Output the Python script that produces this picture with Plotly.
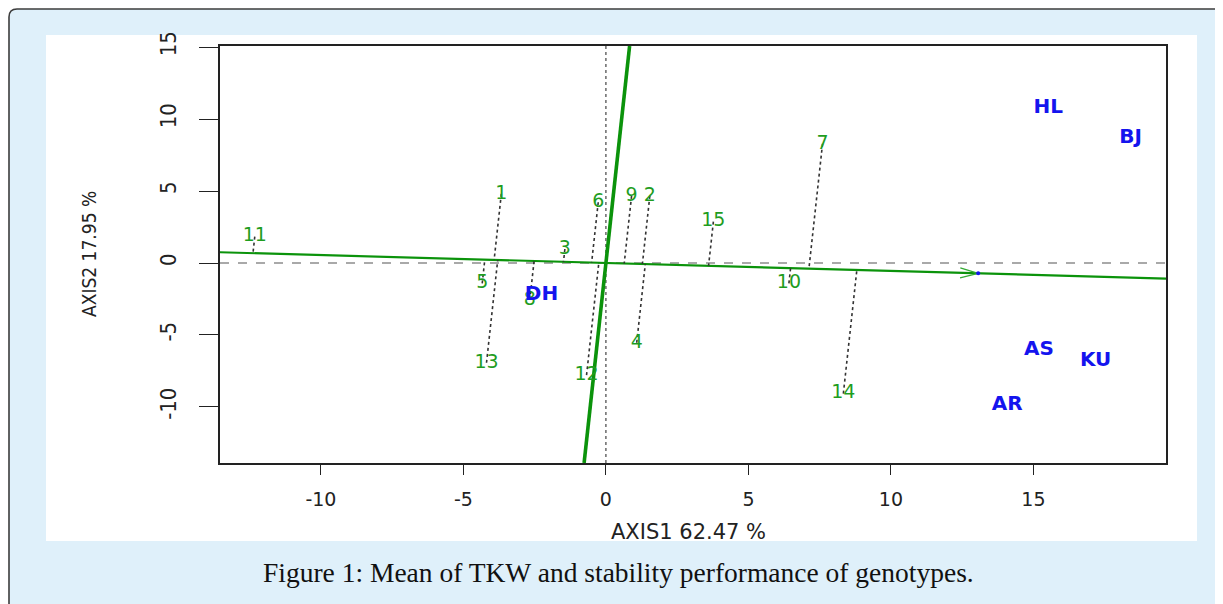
import plotly.graph_objects as go
import numpy as np

# ---------------- data ----------------
geno_labels = ["1", "2", "3", "4", "5", "6", "7", "8", "9", "10", "11", "12", "13", "14", "15"]
geno_x = [-3.67, 1.54, -1.44, 1.08, -4.34, -0.27, 7.60, -2.67, 0.90, 6.42, -12.32, -0.68, -4.19, 8.33, 3.77]
geno_y = [4.80, 4.66, 0.97, -5.54, -1.41, 4.22, 8.28, -2.57, 4.66, -1.41, 1.83, -7.79, -6.93, -9.07, 2.87]

env_labels = ["HL", "BJ", "AS", "KU", "AR", "DH"]
env_x = [15.52, 18.41, 15.19, 17.18, 14.08, -2.26]
env_y = [10.76, 8.67, -6.05, -6.79, -9.87, -2.23]

aec_x = 13.06   # average environment coordinate (blue dot with arrow)
aec_y = -0.72

x_tick_vals = [-10, -5, 0, 5, 10, 15]
x_tick_text = ["-10", "-5", "0", "5", "10", "15"]
y_tick_vals = [-10, -5, 0, 5, 10, 15]
y_tick_text = ["-10", "-5", "0", "5", "10", "15"]

x_title = "AXIS1 62.47 %"
y_title = "AXIS2 17.95 %"
caption = "Figure 1: Mean of TKW and stability performance of genotypes."

# ---------------- layout geometry (screen pixels) ----------------
OFF = 8                      # page body margin of the html page
W, H = 1223 - OFF, 604 - OFF
PL, PR, PT, PB = 220, 1166, 46, 463   # plot area in screen pixels
x_range = [-13.54, 19.65]
y_range = [-13.89, 15.07]

GREEN_LINE = "#0b930b"
GREEN_TEXT = "#1f9d1f"
BLUE = "#1414ee"
BOX_BLUE = "#dff0fa"

def px(xp):
    return (xp - PL) / (PR - PL)

def py(yp):
    return (PB - yp) / (PB - PT)

sx = (PR - PL) / (x_range[1] - x_range[0])
sy = (PB - PT) / (y_range[1] - y_range[0])

fig = go.Figure()

# ---- average-environment axis (through origin and AEC) ----
m = aec_y / aec_x
ata_x = [x_range[0], x_range[1]]
ata_y = [m * v for v in ata_x]
fig.add_trace(go.Scatter(x=ata_x, y=ata_y, mode="lines",
                         line=dict(color=GREEN_LINE, width=2.2), hoverinfo="skip"))
# ---- perpendicular (stability) axis ----
atc_y = [y_range[0], y_range[1]]
atc_x = [-m * v for v in atc_y]
fig.add_trace(go.Scatter(x=atc_x, y=atc_y, mode="lines",
                         line=dict(color=GREEN_LINE, width=3.6), hoverinfo="skip"))

# ---- projection lines from genotypes to the average-environment axis ----
ux, uy = aec_x / np.hypot(aec_x, aec_y), aec_y / np.hypot(aec_x, aec_y)
proj_x, proj_y = [], []
for gx, gy in zip(geno_x, geno_y):
    d = gx * ux + gy * uy
    proj_x += [gx, d * ux, None]
    proj_y += [gy, d * uy, None]
fig.add_trace(go.Scatter(x=proj_x, y=proj_y, mode="lines",
                         line=dict(color="#333333", width=1.6, dash="dot"), hoverinfo="skip"))

# ---- arrow head at AEC (open chevron) ----
dpx, dpy = aec_x * sx, -aec_y * sy
nrm = np.hypot(dpx, dpy)
dpx, dpy = dpx / nrm, dpy / nrm
back = 18.0
half = 5.0
bx, by = -back * dpx, -back * dpy
w1 = (bx - half * dpy, by + half * dpx)
w2 = (bx + half * dpy, by - half * dpx)
ah_x = [aec_x + w1[0] / sx, aec_x, aec_x + w2[0] / sx]
ah_y = [aec_y - w1[1] / sy, aec_y, aec_y - w2[1] / sy]
fig.add_trace(go.Scatter(x=ah_x, y=ah_y, mode="lines",
                         line=dict(color="#33aa33", width=1.3), hoverinfo="skip"))
fig.add_trace(go.Scatter(x=[aec_x], y=[aec_y], mode="markers",
                         marker=dict(color=BLUE, size=4), hoverinfo="skip"))

# ---- labels ----
fig.add_trace(go.Scatter(x=geno_x, y=geno_y, mode="text", text=geno_labels,
                         textposition="middle center", cliponaxis=False,
                         textfont=dict(family="DejaVu Sans", size=19, color=GREEN_TEXT),
                         hoverinfo="skip"))
fig.add_trace(go.Scatter(x=env_x, y=env_y, mode="text", text=env_labels,
                         textposition="middle center", cliponaxis=False,
                         textfont=dict(family="DejaVu Sans", size=20, color=BLUE, weight="bold"),
                         hoverinfo="skip"))

# ---------------- decoration shapes ----------------
shapes = []
r = 8
x0, y0 = 9, 9
path = (f"M {px(x0)},{py(640)} L {px(x0)},{py(y0 + r)} "
        f"Q {px(x0)},{py(y0)} {px(x0 + r)},{py(y0)} "
        f"L {px(1260)},{py(y0)} L {px(1260)},{py(640)} Z")
shapes.append(dict(type="path", xref="paper", yref="paper", path=path,
                   fillcolor=BOX_BLUE, line=dict(color="#3c3c3c", width=1.6), layer="below"))
shapes.append(dict(type="rect", xref="paper", yref="paper",
                   x0=px(46), x1=px(1197), y0=py(541), y1=py(35),
                   fillcolor="white", line=dict(width=0), layer="below"))
shapes.append(dict(type="line", xref="x", yref="y domain", x0=0, x1=0, y0=0, y1=1,
                   line=dict(color="#333333", width=1.1, dash="dot"), layer="below"))
shapes.append(dict(type="line", xref="x domain", yref="y", x0=0, x1=1, y0=0, y1=0,
                   line=dict(color="#555555", width=1.1, dash="dash"), layer="below"))

annotations = [
    dict(text=x_title, xref="paper", yref="paper", x=px(688), y=py(532),
         showarrow=False, xanchor="center", yanchor="middle",
         font=dict(family="DejaVu Sans", size=21, color="#222222")),
    dict(text=y_title, xref="paper", yref="paper", x=px(89), y=py(254),
         showarrow=False, xanchor="center", yanchor="middle", textangle=-90,
         font=dict(family="Liberation Sans Narrow, DejaVu Sans Condensed, sans-serif", size=19, color="#222222")),
    dict(text=caption, xref="paper", yref="paper", x=px(618), y=py(572),
         showarrow=False, xanchor="center", yanchor="middle",
         font=dict(family="Liberation Serif, serif", size=27.5, color="#111111")),
]

fig.update_layout(
    width=W, height=H,
    margin=dict(l=PL - OFF, r=W - (PR - OFF), t=PT - OFF, b=H - (PB - OFF), pad=0),
    paper_bgcolor="white", plot_bgcolor="white",
    showlegend=False,
    shapes=shapes, annotations=annotations,
    xaxis=dict(range=x_range, tickmode="array", tickvals=x_tick_vals, ticktext=x_tick_text,
               showgrid=False, zeroline=False, showline=True, linecolor="#222222", linewidth=1.5,
               mirror=True, ticks="outside", ticklen=10, tickwidth=1.3, tickcolor="#222222",
               ticklabelstandoff=8,
               tickfont=dict(family="DejaVu Sans", size=19, color="#222222")),
    yaxis=dict(range=y_range, tickmode="array", tickvals=y_tick_vals, ticktext=y_tick_text,
               showgrid=False, zeroline=False, showline=True, linecolor="#222222", linewidth=1.5,
               mirror=True, ticks="outside", ticklen=19, tickwidth=1.3, tickcolor="#222222",
               tickangle=-90, ticklabelstandoff=14,
               tickfont=dict(family="Liberation Sans Narrow, DejaVu Sans Condensed, sans-serif", size=22, color="#222222")),
)

fig.write_html("out.html")
